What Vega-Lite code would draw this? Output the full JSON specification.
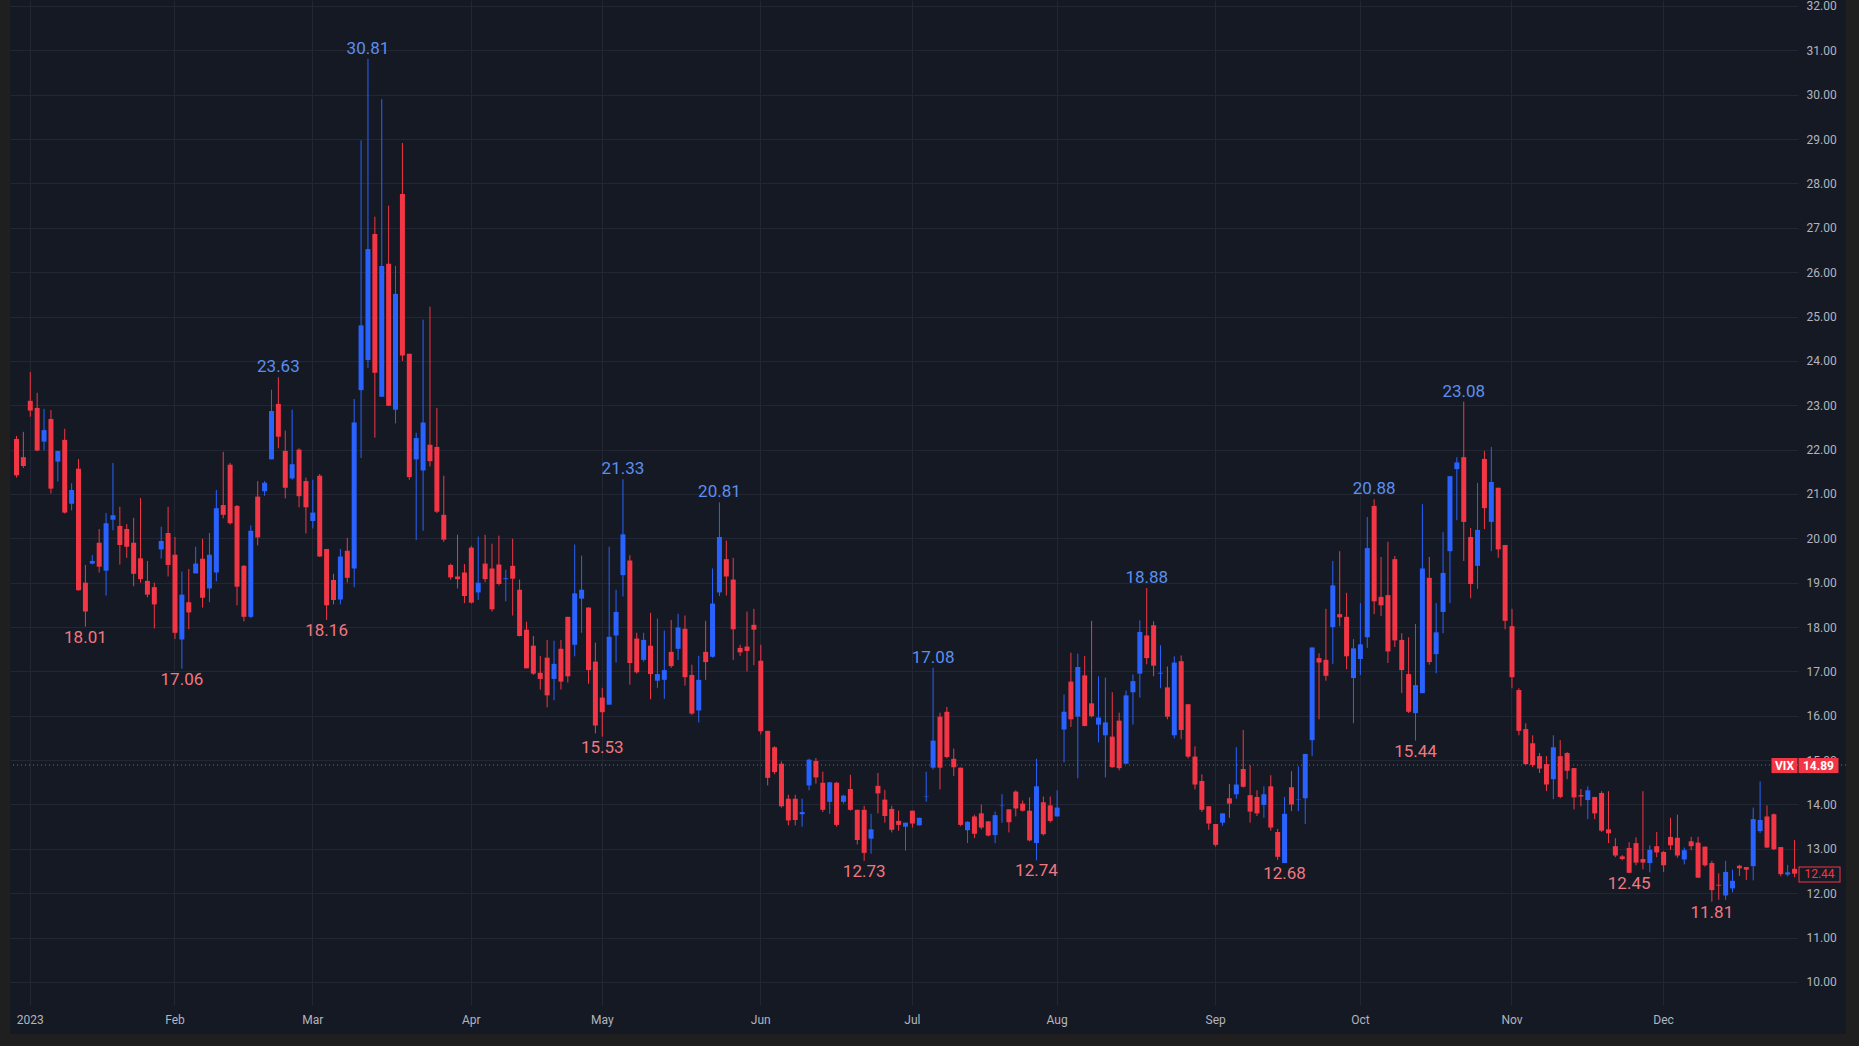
{
"$schema": "https://vega.github.io/schema/vega-lite/v6.json",
"width": 1836,
"height": 1034,
"autosize": {"type": "none"},
"padding": {"left": 10, "top": 0, "right": 13, "bottom": 12},
"background": "#1F1F1F",
"config": {"view": {"stroke": null, "fill": "#151924"}, "font": "Roboto", "axis": {"labelFont": "Roboto", "labelColor": "#B2B5BE", "labelFontSize": 12, "domain": false, "ticks": false}},
"datasets": {
"ohlc": [
{"d":"2022-12-29","o":22.24,"h":22.31,"l":21.37,"c":21.42},
{"d":"2022-12-30","o":21.83,"h":22.40,"l":21.59,"c":21.63},
{"d":"2023-01-03","o":23.10,"h":23.75,"l":22.74,"c":22.88},
{"d":"2023-01-04","o":22.94,"h":23.28,"l":21.96,"c":21.98},
{"d":"2023-01-05","o":22.18,"h":22.92,"l":21.98,"c":22.44},
{"d":"2023-01-06","o":22.69,"h":22.89,"l":21.01,"c":21.12},
{"d":"2023-01-09","o":21.73,"h":21.97,"l":21.28,"c":21.97},
{"d":"2023-01-10","o":22.22,"h":22.47,"l":20.56,"c":20.58},
{"d":"2023-01-11","o":20.78,"h":21.24,"l":20.63,"c":21.09},
{"d":"2023-01-12","o":21.57,"h":21.79,"l":18.82,"c":18.83},
{"d":"2023-01-13","o":19.00,"h":19.40,"l":18.01,"c":18.35},
{"d":"2023-01-16","o":19.43,"h":19.62,"l":19.41,"c":19.49},
{"d":"2023-01-17","o":19.90,"h":20.21,"l":19.23,"c":19.36},
{"d":"2023-01-18","o":19.27,"h":20.57,"l":18.71,"c":20.34},
{"d":"2023-01-19","o":20.42,"h":21.70,"l":20.18,"c":20.52},
{"d":"2023-01-20","o":20.28,"h":20.71,"l":19.41,"c":19.85},
{"d":"2023-01-23","o":20.21,"h":20.32,"l":19.56,"c":19.81},
{"d":"2023-01-24","o":19.90,"h":20.46,"l":18.92,"c":19.20},
{"d":"2023-01-25","o":19.55,"h":20.91,"l":19.00,"c":19.08},
{"d":"2023-01-26","o":19.04,"h":19.49,"l":18.67,"c":18.73},
{"d":"2023-01-27","o":18.90,"h":19.00,"l":17.97,"c":18.51},
{"d":"2023-01-30","o":19.75,"h":20.26,"l":19.54,"c":19.94},
{"d":"2023-01-31","o":20.12,"h":20.71,"l":19.14,"c":19.40},
{"d":"2023-02-01","o":19.63,"h":20.03,"l":17.73,"c":17.87},
{"d":"2023-02-02","o":17.72,"h":19.25,"l":17.06,"c":18.73},
{"d":"2023-02-03","o":18.56,"h":19.31,"l":17.95,"c":18.33},
{"d":"2023-02-06","o":19.21,"h":19.81,"l":19.21,"c":19.43},
{"d":"2023-02-07","o":19.54,"h":19.99,"l":18.44,"c":18.66},
{"d":"2023-02-08","o":18.87,"h":20.12,"l":18.56,"c":19.63},
{"d":"2023-02-09","o":19.23,"h":21.09,"l":19.03,"c":20.68},
{"d":"2023-02-10","o":20.75,"h":21.95,"l":20.45,"c":20.53},
{"d":"2023-02-13","o":21.66,"h":21.70,"l":20.31,"c":20.34},
{"d":"2023-02-14","o":20.73,"h":20.75,"l":18.49,"c":18.91},
{"d":"2023-02-15","o":19.38,"h":19.40,"l":18.13,"c":18.23},
{"d":"2023-02-16","o":18.23,"h":20.29,"l":18.20,"c":20.17},
{"d":"2023-02-17","o":20.94,"h":21.29,"l":19.84,"c":20.02},
{"d":"2023-02-20","o":21.06,"h":21.29,"l":20.96,"c":21.25},
{"d":"2023-02-21","o":21.78,"h":23.35,"l":21.78,"c":22.87},
{"d":"2023-02-22","o":23.03,"h":23.63,"l":22.03,"c":22.29},
{"d":"2023-02-23","o":21.97,"h":22.43,"l":20.90,"c":21.14},
{"d":"2023-02-24","o":21.35,"h":22.90,"l":21.32,"c":21.67},
{"d":"2023-02-27","o":22.00,"h":22.03,"l":20.70,"c":20.95},
{"d":"2023-02-28","o":21.29,"h":21.37,"l":20.11,"c":20.70},
{"d":"2023-03-01","o":20.39,"h":21.32,"l":20.22,"c":20.58},
{"d":"2023-03-02","o":21.41,"h":21.45,"l":19.58,"c":19.59},
{"d":"2023-03-03","o":19.76,"h":19.76,"l":18.16,"c":18.49},
{"d":"2023-03-06","o":19.06,"h":19.20,"l":18.51,"c":18.61},
{"d":"2023-03-07","o":18.62,"h":19.76,"l":18.51,"c":19.59},
{"d":"2023-03-08","o":19.72,"h":20.01,"l":19.00,"c":19.11},
{"d":"2023-03-09","o":19.32,"h":23.14,"l":18.90,"c":22.61},
{"d":"2023-03-10","o":23.34,"h":28.97,"l":21.81,"c":24.80},
{"d":"2023-03-13","o":24.02,"h":30.81,"l":23.84,"c":26.52},
{"d":"2023-03-14","o":26.86,"h":27.25,"l":22.27,"c":23.73},
{"d":"2023-03-15","o":23.19,"h":29.90,"l":23.19,"c":26.14},
{"d":"2023-03-16","o":26.19,"h":27.50,"l":22.98,"c":22.99},
{"d":"2023-03-17","o":22.90,"h":26.14,"l":22.59,"c":25.51},
{"d":"2023-03-20","o":27.76,"h":28.91,"l":24.00,"c":24.12},
{"d":"2023-03-21","o":24.16,"h":24.16,"l":21.32,"c":21.38},
{"d":"2023-03-22","o":21.78,"h":22.38,"l":19.96,"c":22.26},
{"d":"2023-03-23","o":21.53,"h":24.93,"l":20.17,"c":22.61},
{"d":"2023-03-24","o":22.11,"h":25.22,"l":21.62,"c":21.74},
{"d":"2023-03-27","o":22.06,"h":22.94,"l":20.57,"c":20.60},
{"d":"2023-03-28","o":20.53,"h":21.41,"l":19.92,"c":19.97},
{"d":"2023-03-29","o":19.40,"h":19.43,"l":19.07,"c":19.12},
{"d":"2023-03-30","o":19.14,"h":20.08,"l":18.87,"c":19.08},
{"d":"2023-03-31","o":19.23,"h":19.42,"l":18.54,"c":18.70},
{"d":"2023-04-03","o":19.79,"h":19.83,"l":18.53,"c":18.55},
{"d":"2023-04-04","o":18.78,"h":20.04,"l":18.61,"c":19.00},
{"d":"2023-04-05","o":19.43,"h":20.08,"l":19.01,"c":19.08},
{"d":"2023-04-06","o":19.32,"h":19.88,"l":18.35,"c":18.40},
{"d":"2023-04-10","o":19.41,"h":20.06,"l":18.94,"c":18.97},
{"d":"2023-04-11","o":19.08,"h":19.29,"l":18.58,"c":19.10},
{"d":"2023-04-12","o":19.38,"h":19.99,"l":18.26,"c":19.09},
{"d":"2023-04-13","o":18.84,"h":19.07,"l":17.79,"c":17.80},
{"d":"2023-04-14","o":17.94,"h":18.12,"l":17.07,"c":17.07},
{"d":"2023-04-17","o":17.58,"h":17.80,"l":16.92,"c":16.95},
{"d":"2023-04-18","o":16.97,"h":17.35,"l":16.59,"c":16.83},
{"d":"2023-04-19","o":17.31,"h":17.71,"l":16.19,"c":16.46},
{"d":"2023-04-20","o":16.83,"h":17.69,"l":16.35,"c":17.17},
{"d":"2023-04-21","o":17.51,"h":17.71,"l":16.59,"c":16.77},
{"d":"2023-04-24","o":18.23,"h":18.23,"l":16.75,"c":16.89},
{"d":"2023-04-25","o":17.60,"h":19.86,"l":17.34,"c":18.76},
{"d":"2023-04-26","o":18.64,"h":19.61,"l":17.87,"c":18.84},
{"d":"2023-04-27","o":18.44,"h":18.44,"l":16.72,"c":17.03},
{"d":"2023-04-28","o":17.22,"h":17.65,"l":15.60,"c":15.78},
{"d":"2023-05-01","o":16.41,"h":16.63,"l":15.53,"c":16.08},
{"d":"2023-05-02","o":16.25,"h":19.81,"l":16.25,"c":17.78},
{"d":"2023-05-03","o":17.81,"h":18.84,"l":17.20,"c":18.34},
{"d":"2023-05-04","o":19.17,"h":21.33,"l":18.69,"c":20.09},
{"d":"2023-05-05","o":19.50,"h":19.62,"l":16.70,"c":17.19},
{"d":"2023-05-08","o":17.74,"h":17.87,"l":16.95,"c":16.98},
{"d":"2023-05-09","o":17.26,"h":17.87,"l":17.22,"c":17.71},
{"d":"2023-05-10","o":17.58,"h":18.32,"l":16.37,"c":16.94},
{"d":"2023-05-11","o":16.79,"h":18.19,"l":16.63,"c":16.94},
{"d":"2023-05-12","o":16.81,"h":17.92,"l":16.38,"c":17.03},
{"d":"2023-05-15","o":17.44,"h":18.16,"l":17.08,"c":17.12},
{"d":"2023-05-16","o":17.51,"h":18.30,"l":17.26,"c":17.99},
{"d":"2023-05-17","o":17.96,"h":18.26,"l":16.68,"c":16.87},
{"d":"2023-05-18","o":16.92,"h":17.15,"l":16.02,"c":16.05},
{"d":"2023-05-19","o":16.12,"h":17.35,"l":15.85,"c":16.81},
{"d":"2023-05-22","o":17.44,"h":18.14,"l":16.81,"c":17.21},
{"d":"2023-05-23","o":17.33,"h":19.32,"l":17.31,"c":18.53},
{"d":"2023-05-24","o":18.78,"h":20.81,"l":18.70,"c":20.03},
{"d":"2023-05-25","o":19.53,"h":19.95,"l":18.71,"c":19.14},
{"d":"2023-05-26","o":19.07,"h":19.56,"l":17.26,"c":17.95},
{"d":"2023-05-29","o":17.53,"h":17.60,"l":17.35,"c":17.43},
{"d":"2023-05-30","o":17.56,"h":18.35,"l":17.00,"c":17.46},
{"d":"2023-05-31","o":18.05,"h":18.41,"l":17.14,"c":17.94},
{"d":"2023-06-01","o":17.24,"h":17.60,"l":15.58,"c":15.65},
{"d":"2023-06-02","o":15.66,"h":15.66,"l":14.43,"c":14.60},
{"d":"2023-06-05","o":15.29,"h":15.31,"l":14.68,"c":14.73},
{"d":"2023-06-06","o":14.92,"h":14.97,"l":13.93,"c":13.96},
{"d":"2023-06-07","o":14.13,"h":14.22,"l":13.53,"c":13.64},
{"d":"2023-06-08","o":14.13,"h":14.22,"l":13.53,"c":13.65},
{"d":"2023-06-09","o":13.78,"h":14.13,"l":13.50,"c":13.83},
{"d":"2023-06-12","o":14.43,"h":15.03,"l":14.32,"c":15.01},
{"d":"2023-06-13","o":14.98,"h":15.05,"l":14.47,"c":14.61},
{"d":"2023-06-14","o":14.49,"h":14.74,"l":13.83,"c":13.88},
{"d":"2023-06-15","o":14.06,"h":14.51,"l":13.79,"c":14.50},
{"d":"2023-06-16","o":14.49,"h":14.51,"l":13.50,"c":13.54},
{"d":"2023-06-19","o":14.06,"h":14.22,"l":14.02,"c":14.20},
{"d":"2023-06-20","o":14.35,"h":14.67,"l":13.86,"c":13.88},
{"d":"2023-06-21","o":13.88,"h":13.88,"l":13.10,"c":13.20},
{"d":"2023-06-22","o":13.88,"h":13.97,"l":12.73,"c":12.91},
{"d":"2023-06-23","o":13.23,"h":13.79,"l":12.89,"c":13.44},
{"d":"2023-06-26","o":14.42,"h":14.71,"l":13.80,"c":14.25},
{"d":"2023-06-27","o":14.11,"h":14.33,"l":13.59,"c":13.74},
{"d":"2023-06-28","o":13.90,"h":13.97,"l":13.37,"c":13.43},
{"d":"2023-06-29","o":13.63,"h":13.86,"l":13.41,"c":13.54},
{"d":"2023-06-30","o":13.50,"h":13.59,"l":12.96,"c":13.59},
{"d":"2023-07-03","o":13.86,"h":13.86,"l":13.48,"c":13.57},
{"d":"2023-07-04","o":13.53,"h":13.70,"l":13.53,"c":13.70},
{"d":"2023-07-05","o":14.17,"h":14.74,"l":14.06,"c":14.18},
{"d":"2023-07-06","o":14.83,"h":17.08,"l":14.79,"c":15.44},
{"d":"2023-07-07","o":15.98,"h":16.07,"l":14.34,"c":14.83},
{"d":"2023-07-10","o":16.09,"h":16.20,"l":15.04,"c":15.07},
{"d":"2023-07-11","o":15.03,"h":15.26,"l":14.64,"c":14.84},
{"d":"2023-07-12","o":14.83,"h":14.83,"l":13.51,"c":13.54},
{"d":"2023-07-13","o":13.42,"h":13.62,"l":13.13,"c":13.61},
{"d":"2023-07-14","o":13.73,"h":13.77,"l":13.24,"c":13.34},
{"d":"2023-07-17","o":13.80,"h":14.00,"l":13.44,"c":13.48},
{"d":"2023-07-18","o":13.62,"h":13.62,"l":13.28,"c":13.30},
{"d":"2023-07-19","o":13.31,"h":13.84,"l":13.13,"c":13.76},
{"d":"2023-07-20","o":13.98,"h":14.23,"l":13.59,"c":13.99},
{"d":"2023-07-21","o":13.89,"h":13.89,"l":13.37,"c":13.60},
{"d":"2023-07-24","o":14.29,"h":14.32,"l":13.73,"c":13.91},
{"d":"2023-07-25","o":14.02,"h":14.09,"l":13.84,"c":13.86},
{"d":"2023-07-26","o":13.86,"h":14.16,"l":13.17,"c":13.19},
{"d":"2023-07-27","o":13.13,"h":15.03,"l":12.74,"c":14.41},
{"d":"2023-07-28","o":14.05,"h":14.18,"l":13.30,"c":13.33},
{"d":"2023-07-31","o":13.98,"h":14.18,"l":13.59,"c":13.63},
{"d":"2023-08-01","o":13.73,"h":14.32,"l":13.73,"c":13.93},
{"d":"2023-08-02","o":15.69,"h":16.48,"l":14.95,"c":16.09},
{"d":"2023-08-03","o":16.77,"h":17.42,"l":15.75,"c":15.92},
{"d":"2023-08-04","o":15.98,"h":17.40,"l":14.59,"c":17.10},
{"d":"2023-08-07","o":16.91,"h":17.35,"l":15.76,"c":15.77},
{"d":"2023-08-08","o":16.28,"h":18.14,"l":15.96,"c":15.99},
{"d":"2023-08-09","o":15.80,"h":16.89,"l":15.40,"c":15.96},
{"d":"2023-08-10","o":15.56,"h":16.86,"l":14.61,"c":15.85},
{"d":"2023-08-11","o":15.53,"h":16.53,"l":14.83,"c":14.84},
{"d":"2023-08-14","o":15.89,"h":16.07,"l":14.77,"c":14.82},
{"d":"2023-08-15","o":14.92,"h":16.57,"l":14.92,"c":16.46},
{"d":"2023-08-16","o":16.53,"h":16.93,"l":15.80,"c":16.78},
{"d":"2023-08-17","o":16.95,"h":18.15,"l":16.41,"c":17.89},
{"d":"2023-08-18","o":17.81,"h":18.88,"l":17.16,"c":17.30},
{"d":"2023-08-21","o":18.04,"h":18.13,"l":16.89,"c":17.13},
{"d":"2023-08-22","o":16.95,"h":17.59,"l":16.62,"c":16.97},
{"d":"2023-08-23","o":16.64,"h":17.11,"l":15.92,"c":15.98},
{"d":"2023-08-24","o":15.56,"h":17.34,"l":15.49,"c":17.20},
{"d":"2023-08-25","o":17.23,"h":17.36,"l":15.47,"c":15.68},
{"d":"2023-08-28","o":16.26,"h":16.26,"l":15.04,"c":15.08},
{"d":"2023-08-29","o":15.08,"h":15.31,"l":14.34,"c":14.45},
{"d":"2023-08-30","o":14.53,"h":14.68,"l":13.83,"c":13.88},
{"d":"2023-08-31","o":13.96,"h":13.96,"l":13.43,"c":13.57},
{"d":"2023-09-01","o":13.56,"h":13.56,"l":13.05,"c":13.09},
{"d":"2023-09-04","o":13.59,"h":13.80,"l":13.52,"c":13.80},
{"d":"2023-09-05","o":14.14,"h":14.46,"l":13.70,"c":14.02},
{"d":"2023-09-06","o":14.23,"h":15.29,"l":14.13,"c":14.45},
{"d":"2023-09-07","o":14.80,"h":15.68,"l":14.38,"c":14.40},
{"d":"2023-09-08","o":14.21,"h":14.89,"l":13.59,"c":13.84},
{"d":"2023-09-11","o":14.17,"h":14.32,"l":13.74,"c":13.80},
{"d":"2023-09-12","o":13.99,"h":14.41,"l":13.70,"c":14.23},
{"d":"2023-09-13","o":14.41,"h":14.66,"l":13.41,"c":13.48},
{"d":"2023-09-14","o":13.38,"h":13.45,"l":12.75,"c":12.82},
{"d":"2023-09-15","o":12.68,"h":14.17,"l":12.68,"c":13.79},
{"d":"2023-09-18","o":14.39,"h":14.75,"l":13.85,"c":14.00},
{"d":"2023-09-19","o":14.10,"h":14.86,"l":13.85,"c":14.11},
{"d":"2023-09-20","o":14.14,"h":15.14,"l":13.56,"c":15.14},
{"d":"2023-09-21","o":15.45,"h":17.54,"l":15.09,"c":17.54},
{"d":"2023-09-22","o":17.30,"h":17.41,"l":15.92,"c":17.20},
{"d":"2023-09-25","o":17.26,"h":18.41,"l":16.79,"c":16.90},
{"d":"2023-09-26","o":18.00,"h":19.49,"l":17.17,"c":18.94},
{"d":"2023-09-27","o":18.29,"h":19.71,"l":18.02,"c":18.22},
{"d":"2023-09-28","o":18.23,"h":18.77,"l":17.05,"c":17.34},
{"d":"2023-09-29","o":16.85,"h":17.73,"l":15.83,"c":17.52},
{"d":"2023-10-02","o":17.28,"h":18.54,"l":16.92,"c":17.61},
{"d":"2023-10-03","o":17.77,"h":20.48,"l":17.53,"c":19.78},
{"d":"2023-10-04","o":20.73,"h":20.88,"l":18.29,"c":18.58},
{"d":"2023-10-05","o":18.68,"h":19.58,"l":18.25,"c":18.49},
{"d":"2023-10-06","o":18.72,"h":19.92,"l":17.19,"c":17.45},
{"d":"2023-10-09","o":19.53,"h":19.60,"l":17.55,"c":17.70},
{"d":"2023-10-10","o":17.71,"h":17.86,"l":16.51,"c":17.03},
{"d":"2023-10-11","o":16.94,"h":17.77,"l":16.06,"c":16.09},
{"d":"2023-10-12","o":16.06,"h":18.07,"l":15.44,"c":16.69},
{"d":"2023-10-13","o":16.51,"h":20.77,"l":16.51,"c":19.32},
{"d":"2023-10-16","o":19.11,"h":19.58,"l":17.15,"c":17.21},
{"d":"2023-10-17","o":17.39,"h":18.54,"l":16.96,"c":17.88},
{"d":"2023-10-18","o":18.34,"h":20.14,"l":17.86,"c":19.22},
{"d":"2023-10-19","o":19.71,"h":21.41,"l":18.54,"c":21.40},
{"d":"2023-10-20","o":21.56,"h":21.83,"l":20.41,"c":21.71},
{"d":"2023-10-23","o":21.83,"h":23.08,"l":19.49,"c":20.37},
{"d":"2023-10-24","o":20.03,"h":20.23,"l":18.65,"c":18.97},
{"d":"2023-10-25","o":19.38,"h":21.25,"l":18.86,"c":20.19},
{"d":"2023-10-26","o":21.79,"h":21.97,"l":20.21,"c":20.68},
{"d":"2023-10-27","o":20.37,"h":22.06,"l":19.71,"c":21.27},
{"d":"2023-10-30","o":21.14,"h":21.14,"l":19.56,"c":19.75},
{"d":"2023-10-31","o":19.85,"h":19.85,"l":17.95,"c":18.14},
{"d":"2023-11-01","o":18.02,"h":18.41,"l":16.62,"c":16.87},
{"d":"2023-11-02","o":16.58,"h":16.62,"l":15.56,"c":15.66},
{"d":"2023-11-03","o":15.70,"h":15.83,"l":14.89,"c":14.91},
{"d":"2023-11-06","o":15.38,"h":15.56,"l":14.84,"c":14.89},
{"d":"2023-11-07","o":15.09,"h":15.16,"l":14.71,"c":14.81},
{"d":"2023-11-08","o":14.91,"h":15.09,"l":14.30,"c":14.45},
{"d":"2023-11-09","o":14.57,"h":15.56,"l":14.12,"c":15.29},
{"d":"2023-11-10","o":15.09,"h":15.45,"l":14.14,"c":14.17},
{"d":"2023-11-13","o":15.16,"h":15.18,"l":14.57,"c":14.76},
{"d":"2023-11-14","o":14.82,"h":14.82,"l":13.89,"c":14.16},
{"d":"2023-11-15","o":14.21,"h":14.35,"l":13.96,"c":14.18},
{"d":"2023-11-16","o":14.10,"h":14.41,"l":13.67,"c":14.32},
{"d":"2023-11-17","o":14.17,"h":14.17,"l":13.67,"c":13.80},
{"d":"2023-11-20","o":14.26,"h":14.30,"l":13.38,"c":13.41},
{"d":"2023-11-21","o":13.44,"h":14.30,"l":13.13,"c":13.35},
{"d":"2023-11-22","o":13.06,"h":13.24,"l":12.81,"c":12.85},
{"d":"2023-11-23","o":12.83,"h":12.86,"l":12.74,"c":12.77},
{"d":"2023-11-24","o":13.02,"h":13.15,"l":12.45,"c":12.46},
{"d":"2023-11-27","o":13.13,"h":13.26,"l":12.63,"c":12.69},
{"d":"2023-11-28","o":12.77,"h":14.30,"l":12.54,"c":12.69},
{"d":"2023-11-29","o":12.68,"h":13.08,"l":12.47,"c":12.98},
{"d":"2023-11-30","o":13.06,"h":13.38,"l":12.81,"c":12.92},
{"d":"2023-12-01","o":12.93,"h":12.95,"l":12.48,"c":12.63},
{"d":"2023-12-04","o":13.27,"h":13.70,"l":12.98,"c":13.08},
{"d":"2023-12-05","o":13.25,"h":13.77,"l":12.80,"c":12.85},
{"d":"2023-12-06","o":12.76,"h":13.03,"l":12.65,"c":12.97},
{"d":"2023-12-07","o":13.17,"h":13.27,"l":12.97,"c":13.06},
{"d":"2023-12-08","o":13.14,"h":13.27,"l":12.34,"c":12.35},
{"d":"2023-12-11","o":13.05,"h":13.05,"l":12.60,"c":12.63},
{"d":"2023-12-12","o":12.68,"h":12.73,"l":11.81,"c":12.07},
{"d":"2023-12-13","o":12.19,"h":12.45,"l":11.85,"c":12.17},
{"d":"2023-12-14","o":11.95,"h":12.73,"l":11.85,"c":12.48},
{"d":"2023-12-15","o":12.11,"h":12.53,"l":12.02,"c":12.28},
{"d":"2023-12-18","o":12.62,"h":12.64,"l":12.39,"c":12.56},
{"d":"2023-12-19","o":12.59,"h":12.59,"l":12.30,"c":12.53},
{"d":"2023-12-20","o":12.61,"h":13.93,"l":12.29,"c":13.67},
{"d":"2023-12-21","o":13.40,"h":14.52,"l":13.36,"c":13.65},
{"d":"2023-12-22","o":13.73,"h":13.98,"l":13.02,"c":13.03},
{"d":"2023-12-26","o":13.78,"h":13.80,"l":12.97,"c":12.99},
{"d":"2023-12-27","o":13.04,"h":13.04,"l":12.38,"c":12.43},
{"d":"2023-12-28","o":12.42,"h":12.64,"l":12.38,"c":12.47},
{"d":"2023-12-29","o":12.55,"h":13.20,"l":12.36,"c":12.44}
],
"highs": [
{"d":"2023-02-22","v":23.63},{"d":"2023-03-13","v":30.81},{"d":"2023-05-04","v":21.33},{"d":"2023-05-24","v":20.81},
{"d":"2023-07-06","v":17.08},{"d":"2023-08-18","v":18.88},{"d":"2023-10-04","v":20.88},{"d":"2023-10-23","v":23.08}
],
"lows": [
{"d":"2023-01-13","v":18.01},{"d":"2023-02-02","v":17.06},{"d":"2023-03-03","v":18.16},{"d":"2023-05-01","v":15.53},
{"d":"2023-06-22","v":12.73},{"d":"2023-07-27","v":12.74},{"d":"2023-09-15","v":12.68},{"d":"2023-10-12","v":15.44},
{"d":"2023-11-24","v":12.45},{"d":"2023-12-12","v":11.81}
],
"lastPrice": [{"v":14.89}],
"lastBar": [{"v":12.44}]
},
"layer": [
{"data":{"name":"ohlc"},"mark":{"type":"rule","opacity":0},
"encoding":{
"x": {"field":"d","type":"ordinal","title":null,
"scale":{"range":[0,1788],"paddingInner":0,"paddingOuter":0.22,"align":1},
"axis":{"values":["2023-01-03","2023-02-01","2023-03-01","2023-04-03","2023-05-01","2023-06-01","2023-07-03","2023-08-01","2023-09-01","2023-10-02","2023-11-01","2023-12-01"],
"labels":false,"grid":true,"gridColor":"#232733","gridWidth":1,"bandPosition":0.5,"orient":"top"}},
"y":{"field":"l","type":"quantitative","title":null,"scale":{"domain":[9.48,32.135],"range":[1005,0],"nice":false,"zero":false},
"axis":{"orient":"left","values":[10,11,12,13,14,15,16,17,18,19,20,21,22,23,24,25,26,27,28,29,30,31,32],"labels":false,"grid":true,"gridColor":"#232733","gridWidth":1}}}},
{
"encoding": {
"x": {"field":"d","type":"ordinal","title":null,
"scale":{"range":[0,1788],"paddingInner":0,"paddingOuter":0.22,"align":1},
"axis":{"values":["2023-01-03","2023-02-01","2023-03-01","2023-04-03","2023-05-01","2023-06-01","2023-07-03","2023-08-01","2023-09-01","2023-10-02","2023-11-01","2023-12-01"],
"labelExpr":"datum.value == '2023-01-03' ? '2023' : utcFormat(toDate(datum.value), '%b')",
"labelAngle":0,"labelOverlap":false,"labelPadding":9,"offset":-29,"grid":false,"bandPosition":0.5,"orient":"bottom"}}
},
"layer": [
{"data":{"name":"ohlc"},"mark":{"type":"rule","strokeWidth":1},
"encoding":{
"y":{"field":"l","type":"quantitative","title":null,"axis":null,"scale":{"domain":[9.48,32.135],"range":[1005,0],"nice":false,"zero":false}},
"y2":{"field":"h"},
"color":{"condition":{"test":"datum.c >= datum.o","value":"#2962FF"},"value":"#F23645"}}},
{"data":{"name":"ohlc"},"mark":{"type":"bar","size":5},
"encoding":{
"y":{"field":"o","type":"quantitative","axis":null,"scale":{"domain":[9.48,32.135],"range":[1005,0],"nice":false,"zero":false}},
"y2":{"field":"c"},
"color":{"condition":{"test":"datum.c >= datum.o","value":"#2962FF"},"value":"#F23645"}}},
{"data":{"name":"highs"},"mark":{"type":"text","fontSize":17,"font":"Roboto","baseline":"alphabetic","dy":-5,"color":"#5B8FEF"},
"encoding":{
"y":{"field":"v","type":"quantitative","axis":null,"scale":{"domain":[9.48,32.135],"range":[1005,0],"nice":false,"zero":false}},
"text":{"field":"v","type":"quantitative","format":".2f"}}},
{"data":{"name":"lows"},"mark":{"type":"text","fontSize":17,"font":"Roboto","baseline":"alphabetic","dy":16,"color":"#F07780"},
"encoding":{
"y":{"field":"v","type":"quantitative","axis":null,"scale":{"domain":[9.48,32.135],"range":[1005,0],"nice":false,"zero":false}},
"text":{"field":"v","type":"quantitative","format":".2f"}}}
]
},
{"data":{"name":"lastPrice"},"mark":{"type":"rule","opacity":0},
"encoding":{"y":{"field":"v","type":"quantitative","title":null,"scale":{"domain":[9.48,32.135],"range":[1005,0],"nice":false,"zero":false},
"axis":{"orient":"right","offset":-49,"values":[10,11,12,13,14,15,16,17,18,19,20,21,22,23,24,25,26,27,28,29,30,31,32],"format":".2f","grid":false,"labelPadding":9,"labelAlign":"left","labelBaseline":"middle","labelOverlap":false,"labelBound":false}}}},
{"data":{"name":"lastPrice"},"mark":{"type":"rule","color":"#F23645","strokeDash":[1,3],"strokeWidth":1},
"encoding":{"y":{"field":"v","type":"quantitative","title":null,"scale":{"domain":[9.48,32.135],"range":[1005,0],"nice":false,"zero":false},
"axis":{"orient":"right","offset":-48,"zindex":1,"values":[14.89],"format":".2f","grid":false,"ticks":true,"tickSize":40,"tickWidth":15,"tickColor":"#F23645","labelColor":"#FFFFFF","labelFontWeight":"bold","labelPadding":-20,"labelAlign":"center","labelOverlap":false,"labelBound":false}}}},
{"data":{"name":"lastPrice"},"mark":{"type":"rule","opacity":0},
"encoding":{"y":{"field":"v","type":"quantitative","title":null,"scale":{"domain":[9.48,32.135],"range":[1005,0],"nice":false,"zero":false},
"axis":{"orient":"right","offset":-75,"zindex":1,"values":[14.89],"labelExpr":"'VIX'","grid":false,"ticks":true,"tickSize":26,"tickWidth":15,"tickColor":"#F23645","labelColor":"#FFFFFF","labelFontWeight":"bold","labelPadding":-13,"labelAlign":"center","labelOverlap":false,"labelBound":false}}}},
{"data":{"name":"lastBar"},"mark":{"type":"rule","opacity":0},
"encoding":{"y":{"field":"v","type":"quantitative","title":null,"scale":{"domain":[9.48,32.135],"range":[1005,0],"nice":false,"zero":false},
"axis":{"orient":"right","offset":-48,"zindex":1,"values":[12.44],"labels":false,"grid":false,"ticks":true,"tickSize":42,"tickWidth":16,"tickColor":"#F23645"}}}},
{"data":{"name":"lastBar"},"mark":{"type":"rule","opacity":0},
"encoding":{"y":{"field":"v","type":"quantitative","title":null,"scale":{"domain":[9.48,32.135],"range":[1005,0],"nice":false,"zero":false},
"axis":{"orient":"right","offset":-47,"zindex":1,"values":[12.44],"format":".2f","grid":false,"ticks":true,"tickSize":40,"tickWidth":14,"tickColor":"#151924","labelColor":"#F23645","labelPadding":-20,"labelAlign":"center","labelOverlap":false,"labelBound":false}}}}
],
"resolve": {"axis": {"x": "independent", "y": "independent"}}
}
